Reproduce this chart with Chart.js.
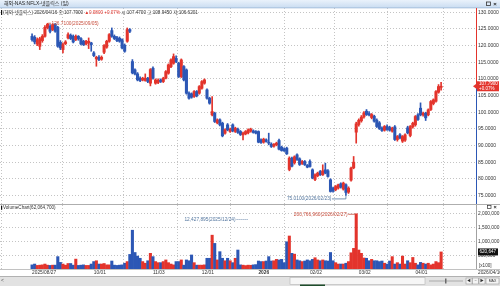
<!DOCTYPE html>
<html>
<head>
<meta charset="utf-8">
<script src="https://cdn.jsdelivr.net/npm/chart.js@4.4.1/dist/chart.umd.min.js"></script>
<style>
  body { margin: 0; width: 500px; height: 286px; overflow: hidden; background: #fff; position: relative; }
  canvas { position: absolute; left: 0; }
  #pc { top: 0; }
  #vc { top: 204px; }
</style>
</head>
<body>
<canvas id="pc" width="500" height="204"></canvas>
<canvas id="vc" width="500" height="82"></canvas>
<script>
// 일봉 날짜 (2025/08/27 ~ 2026/04/16)
const dates = [
  '2025/08/27','2025/08/28','2025/08/29',
  '2025/09/02','2025/09/03','2025/09/04','2025/09/05','2025/09/08','2025/09/09','2025/09/10','2025/09/11','2025/09/12',
  '2025/09/15','2025/09/16','2025/09/17','2025/09/18','2025/09/19','2025/09/22','2025/09/23','2025/09/24','2025/09/25',
  '2025/09/26','2025/09/29','2025/09/30',
  '2025/10/01','2025/10/02','2025/10/03','2025/10/06','2025/10/07','2025/10/08','2025/10/09','2025/10/10','2025/10/13',
  '2025/10/14','2025/10/15','2025/10/16','2025/10/17','2025/10/20','2025/10/21','2025/10/22','2025/10/23','2025/10/24',
  '2025/10/27','2025/10/28','2025/10/29','2025/10/30','2025/10/31',
  '2025/11/03','2025/11/04','2025/11/05','2025/11/06','2025/11/07','2025/11/10','2025/11/11','2025/11/12','2025/11/13',
  '2025/11/14','2025/11/17','2025/11/18','2025/11/19','2025/11/20','2025/11/21','2025/11/24','2025/11/25','2025/11/26',
  '2025/11/28',
  '2025/12/01','2025/12/02','2025/12/03','2025/12/04','2025/12/05','2025/12/08','2025/12/09','2025/12/10','2025/12/11',
  '2025/12/12','2025/12/15','2025/12/16','2025/12/17','2025/12/18','2025/12/19','2025/12/22','2025/12/23','2025/12/24',
  '2025/12/26','2025/12/29','2025/12/30','2025/12/31',
  '2026/01/02','2026/01/05','2026/01/06','2026/01/07','2026/01/08','2026/01/09','2026/01/12','2026/01/13','2026/01/14',
  '2026/01/15','2026/01/16','2026/01/20','2026/01/21','2026/01/22','2026/01/23','2026/01/26','2026/01/27','2026/01/28',
  '2026/01/29','2026/01/30',
  '2026/02/02','2026/02/03','2026/02/04','2026/02/05','2026/02/06','2026/02/09','2026/02/10','2026/02/11','2026/02/12',
  '2026/02/13','2026/02/17','2026/02/18','2026/02/19','2026/02/20','2026/02/23','2026/02/24','2026/02/25','2026/02/26',
  '2026/02/27',
  '2026/03/02','2026/03/03','2026/03/04','2026/03/05','2026/03/06','2026/03/09','2026/03/10','2026/03/11','2026/03/12',
  '2026/03/13','2026/03/16','2026/03/17','2026/03/18','2026/03/19','2026/03/20','2026/03/23','2026/03/24','2026/03/25',
  '2026/03/26','2026/03/27','2026/03/30','2026/03/31',
  '2026/04/01','2026/04/02','2026/04/06','2026/04/07','2026/04/08','2026/04/09','2026/04/10','2026/04/13','2026/04/14',
  '2026/04/15','2026/04/16'
];

const open = [
  122.8,122.5,120.5,119.8,121.5,122.8,125.4,125.8,124.8,126.5,
  125.5,121.0,118.8,120.6,122.3,123.1,122.8,121.8,122.8,122.1,
  121.3,120.5,120.8,120.8,117.8,116.0,116.5,115.9,118.0,119.5,
  121.3,124.5,122.8,122.4,122.2,121.8,120.1,121.3,124.8,115.2,
  112.7,111.5,110.2,109.7,109.5,110.2,108.7,113.2,108.7,108.9,
  109.7,109.2,110.2,111.7,113.7,114.7,116.2,114.7,110.7,113.7,
  112.7,105.7,105.5,104.7,106.2,105.7,107.2,108.7,106.7,104.2,
  99.2,99.7,96.8,97.7,96.7,93.7,96.2,94.2,96.2,94.2,
  94.9,94.2,93.2,93.5,93.8,94.3,94.4,94.2,94.2,91.7,
  91.0,91.7,91.0,90.4,89.8,90.2,91.5,89.5,89.0,89.2,
  82.8,86.2,84.8,87.2,86.0,84.6,85.2,84.0,85.2,82.7,
  79.8,80.9,82.2,81.2,82.7,82.4,79.7,77.2,76.7,77.2,
  78.5,76.9,78.2,76.0,79.6,83.3,94.0,96.3,97.4,98.6,
  100.3,99.6,98.4,98.8,97.6,96.8,95.2,94.6,95.7,95.4,
  94.3,95.6,91.8,93.2,91.3,91.6,95.3,93.0,95.6,96.2,
  99.2,101.2,99.2,99.7,99.2,100.8,102.6,103.3,106.0,107.47
];
const high = [
  123.5,123.0,122.3,122.5,123.3,126.0,126.71,126.3,126.6,126.6,
  125.8,121.5,120.8,121.5,123.8,123.5,123.2,123.2,123.0,122.4,
  121.6,121.6,122.3,121.0,118.2,116.8,117.0,116.9,120.3,121.6,
  123.6,125.3,123.2,122.8,122.6,122.0,120.5,125.3,125.1,115.8,
  113.0,111.9,110.6,110.5,111.5,110.5,113.1,113.6,110.0,110.0,
  110.0,110.5,112.5,114.5,116.0,117.5,116.9,115.0,116.0,114.0,
  113.0,106.1,105.8,106.5,106.5,108.0,109.5,110.0,107.0,104.5,
  104.7,100.0,98.0,98.0,97.0,95.0,96.6,95.2,96.5,95.5,
  95.2,94.5,94.0,94.5,95.0,95.2,94.7,94.5,94.4,92.0,
  92.2,92.0,93.7,90.8,90.6,91.0,91.9,89.8,89.3,89.5,
  86.6,86.5,86.9,87.5,86.3,85.5,85.5,84.3,85.7,83.0,
  81.5,82.0,82.5,84.2,84.7,82.8,80.0,77.5,78.0,78.4,
  78.8,79.0,78.5,77.6,83.5,86.7,97.0,98.0,99.0,100.2,
  100.8,100.2,99.6,99.1,98.0,97.2,95.6,96.0,96.2,95.8,
  95.5,96.0,93.0,93.6,93.0,93.5,95.8,96.0,97.0,99.0,
  99.6,102.8,100.0,100.0,101.0,103.5,104.0,106.5,108.3,108.945
];
const low = [
  121.3,120.5,120.0,118.8,121.0,122.5,125.0,123.8,124.5,124.0,
  119.5,118.8,117.8,120.3,122.0,121.8,120.8,121.5,121.6,120.2,
  120.0,120.2,119.1,118.3,116.7,113.8,115.5,115.6,117.6,119.2,
  121.0,122.5,121.8,121.2,121.0,119.0,118.0,121.0,123.9,111.5,
  111.2,109.4,109.2,109.4,109.3,108.9,107.9,109.9,108.4,108.6,
  108.9,108.9,110.0,111.4,113.4,114.4,114.9,110.4,110.4,109.4,
  105.4,103.9,104.2,104.4,104.6,105.4,106.9,108.4,103.9,102.4,
  98.9,96.9,96.5,95.9,92.6,93.4,94.4,93.9,94.1,93.9,
  93.6,93.0,91.7,93.2,93.5,94.0,93.7,93.5,90.8,90.6,
  90.7,91.0,90.2,89.4,89.5,89.9,88.7,88.3,88.2,87.3,
  82.4,83.6,84.4,85.5,84.0,84.3,84.0,83.3,83.5,80.0,
  79.4,80.6,81.0,81.0,81.5,80.5,76.0,76.0,76.4,76.9,
  77.2,76.6,75.01,75.6,79.3,83.0,90.7,95.8,97.0,98.2,
  99.0,98.9,98.0,97.0,95.4,94.8,94.2,94.3,94.5,94.3,
  94.0,91.5,91.3,92.0,90.9,91.2,93.5,92.6,95.2,95.8,
  97.5,98.9,98.8,97.5,98.9,100.5,102.2,103.0,105.7,106.6201
];
const close = [
  121.8,121.1,121.8,122.1,122.8,125.5,126.4,124.3,126.3,124.3,
  119.8,119.3,120.3,121.1,123.3,122.1,121.1,122.8,122.1,120.5,
  120.3,121.3,121.3,120.3,117.0,116.5,115.8,116.5,120.0,121.3,
  123.3,122.8,122.1,121.5,121.3,119.3,118.3,124.8,124.3,111.8,
  111.5,109.7,109.5,110.2,110.2,109.2,112.8,110.2,109.7,109.6,
  109.2,110.2,112.2,114.2,115.7,116.7,115.2,110.7,115.7,109.7,
  105.7,104.2,104.5,106.2,104.9,107.7,109.2,109.7,104.2,102.7,
  100.2,97.2,97.7,96.2,92.9,94.7,94.7,94.9,94.4,95.2,
  93.9,93.3,93.7,94.2,94.7,94.9,93.9,93.7,91.0,90.9,
  91.9,91.2,90.7,89.7,90.4,90.7,88.9,88.5,88.4,87.5,
  86.2,83.8,86.6,85.8,84.3,85.2,84.2,83.5,83.7,80.2,
  81.2,81.7,81.2,82.4,81.7,80.7,76.2,76.3,77.7,78.2,
  77.5,78.7,75.9,77.2,83.2,85.0,96.5,97.6,98.5,99.8,
  99.3,99.2,99.3,97.3,95.7,95.1,94.5,95.7,94.8,94.6,
  95.2,91.8,92.7,92.3,92.7,93.2,93.8,95.7,96.7,98.7,
  97.8,99.2,99.7,98.3,100.7,103.2,103.7,106.2,107.71,107.79
];
// 거래량 (백만 주)
const volume = [
  15,18,13,14,15,18,14,13,14,14,
  45,24,18,14,20,20,14,36,13,14,
  15,13,13,18,27,30,18,18,20,15,
  15,29,14,13,14,15,21,27,53,141,
  60,47,39,27,21,30,57,45,27,23,
  23,27,33,23,18,15,27,27,33,14,
  33,30,51,23,14,14,14,15,39,39,
  123,93,33,63,39,30,39,30,23,39,
  69,15,14,12.427895,14,13.5,15,16,29,27,
  27,29,45,29,30,35,33,35,23,99,
  120,57,54,33,30,27,29,33,30,35,
  41,33,30,33,30,29,60,30,23,18,
  18,18,21,27,59,75,200.76696,69,57,40,
  39,30,35,30,30,27,29,21,18,29,
  45,18,23,18,47,18,30,23,42,21,
  15,24,21,18,21,15,18,27,23,62.0647
];

const tickIdx = [0, 24, 47, 66, 88, 108, 127, 149];
const tickText = ['2025/08/27', '10/01', '11/03', '12/01', '2026', '02/02', '03/02', '04/01'];
const priceTicks = [75, 80, 85, 90, 95, 100, 105, 110, 115, 120, 125, 130];
const volTicks = [50, 100, 150, 200];

const RED = '#e3342c', BLUE = '#2c57b5', GRID = '#c4c4c4', TXT = '#333';
const FAM = '"Liberation Sans","Noto Sans CJK KR",sans-serif';
const n = close.length;
const col = close.map((c, i) => c >= open[i] ? RED : BLUE);
const fmt = v => Math.round(v).toLocaleString('en-US');

function txt(ctx, s, x, y, color, align, size, weight) {
  ctx.font = (weight || 'normal') + ' ' + (size || 5) + 'px ' + FAM;
  ctx.fillStyle = color;
  ctx.textAlign = align || 'left';
  ctx.textBaseline = 'middle';
  ctx.fillText(s, x, y);
  return ctx.measureText(s).width;
}

const xBase = {
  type: 'linear', min: -0.9, max: 161,
  afterBuildTicks: s => { s.ticks = tickIdx.map(v => ({ value: v })); },
  grid: { color: GRID, drawTicks: false },
  border: { display: false, dash: [1, 2] }
};

const pricePanel = {
  id: 'pricePanel',
  afterDraw(chart) {
    const { ctx, chartArea: a, scales: { x, y } } = chart;
    ctx.save();
    // 상단 타이틀
    const g = ctx.createLinearGradient(0, 0, 0, 8);
    g.addColorStop(0, '#eaf2fb'); g.addColorStop(1, '#c9dcf1');
    ctx.fillStyle = g; ctx.fillRect(0, 0, 500, 8);
    ctx.fillStyle = '#9cb7d6'; ctx.fillRect(0, 7.5, 500, 0.8);
    txt(ctx, '해외-NAS:NFLX-넷플릭스 (일)', 4, 4, '#222', 'left', 5);
    ctx.strokeStyle = '#333'; ctx.lineWidth = 0.8;
    ctx.strokeRect(486.5, 2, 4, 3.5);
    txt(ctx, '×', 495, 4, '#222', 'center', 6, 'bold');

    // 시세 정보줄
    ctx.fillStyle = '#111'; ctx.fillRect(1, 10, 1.2, 5);
    const last = n - 1, chg = close[last] - close[last - 1];
    const parts = [
      ['(해외-넷플릭스) ' + dates[last] + ' 종:' + close[last].toFixed(4) + ' ', TXT],
      ['▲' + chg.toFixed(4) + ' ', RED],
      ['+' + (chg / close[last - 1] * 100).toFixed(2) + '% ', RED],
      ['시:' + open[last].toFixed(4) + ' 고:' + high[last].toFixed(4) + ' 저:' + low[last].toFixed(4), TXT]
    ];
    let tx = 3;
    parts.forEach(([s, c]) => { tx += txt(ctx, s, tx, 12.6, c, 'left', 4.6); });

    // 가격축 라인 (현재가 위 빨강, 아래 파랑)
    const cy = y.getPixelForValue(close[last]);
    ctx.fillStyle = RED; ctx.fillRect(a.right, a.top, 1, cy - a.top);
    ctx.fillStyle = BLUE; ctx.fillRect(a.right, cy, 1, a.bottom - cy);

    // 현재가 박스
    ctx.fillStyle = RED;
    ctx.beginPath(); ctx.moveTo(a.right - 3, cy); ctx.lineTo(a.right + 1, cy - 3); ctx.lineTo(a.right + 1, cy + 3); ctx.fill();
    ctx.fillRect(a.right + 1, cy - 5, 22, 10);
    txt(ctx, close[last].toFixed(4), a.right + 3, cy - 2.3, '#fff', 'left', 4.5);
    txt(ctx, '+' + (chg / close[last - 1] * 100).toFixed(2) + '%', a.right + 3, cy + 2.5, '#fff', 'left', 4.5);

    // 최고/최저 표시
    const hi = high.indexOf(Math.max(...high));
    const hx = x.getPixelForValue(hi), hy = y.getPixelForValue(high[hi]);
    ctx.strokeStyle = '#c8503f'; ctx.lineWidth = 0.8;
    ctx.beginPath(); ctx.moveTo(hx + 0.5, hy); ctx.lineTo(hx + 3.5, hy); ctx.stroke();
    txt(ctx, high[hi].toFixed(4) + '(' + dates[hi] + ')', hx + 4, hy, '#c8503f', 'left', 4.8);

    const lo = low.indexOf(Math.min(...low));
    const lx = x.getPixelForValue(lo), ly = y.getPixelForValue(low[lo]);
    ctx.strokeStyle = '#55779f';
    ctx.beginPath(); ctx.moveTo(lx - 14, ly + 3.5); ctx.lineTo(lx, ly + 3.5); ctx.lineTo(lx, ly + 0.5); ctx.stroke();
    txt(ctx, low[lo].toFixed(4) + '(' + dates[lo] + ')', lx - 14.5, ly + 3.5, '#55779f', 'right', 4.8);
    ctx.restore();
  }
};

new Chart(document.getElementById('pc'), {
  type: 'bar',
  data: {
    datasets: [
      { data: dates.map((d, i) => ({ x: i, y: [low[i], high[i]] })), backgroundColor: col, barThickness: 1, grouped: false, minBarLength: 1 },
      { data: dates.map((d, i) => ({ x: i, y: [open[i], close[i]] })), backgroundColor: col, barThickness: 2.4, grouped: false, minBarLength: 1 }
    ]
  },
  options: {
    animation: false, responsive: false, events: [],
    layout: { padding: { top: 8, left: 0, right: 0, bottom: 0 } },
    plugins: { legend: { display: false }, tooltip: { enabled: false } },
    scales: {
      x: Object.assign({}, xBase, { ticks: { display: false }, afterFit: s => { s.height = 0; } }),
      y: {
        position: 'right', min: 72.43, max: 131.29,
        afterBuildTicks: s => { s.ticks = priceTicks.map(v => ({ value: v })); },
        ticks: { callback: v => v.toFixed(4), color: TXT, font: { family: FAM, size: 5 }, padding: 2, crossAlign: 'near' },
        grid: { color: GRID, drawTicks: false },
        border: { display: false, dash: [1, 2] },
        afterFit: s => { s.width = 24; s.paddingTop = 0; s.paddingBottom = 0; }
      }
    }
  },
  plugins: [pricePanel]
});

const volPanel = {
  id: 'volPanel',
  afterDraw(chart) {
    const { ctx, chartArea: a, scales: { x, y } } = chart;
    ctx.save();
    ctx.fillStyle = '#9a9a9a'; ctx.fillRect(0, 0, 500, 0.8);
    ctx.fillStyle = '#111'; ctx.fillRect(1, 1.8, 1.2, 4);
    const last = n - 1;
    txt(ctx, 'VolumeChart(' + fmt(volume[last] * 1e6) + ')', 3, 3.8, TXT, 'left', 4.6);
    ctx.strokeStyle = '#333'; ctx.lineWidth = 0.7; ctx.strokeRect(487.5, 1.5, 3.5, 3);
    txt(ctx, '×', 495, 3.2, '#222', 'center', 5.5, 'bold');

    ctx.fillStyle = '#8a8a8a'; ctx.fillRect(a.right, a.top, 0.8, a.bottom - a.top);
    ctx.fillStyle = '#9a9a9a'; ctx.fillRect(0, a.bottom, 500, 0.6);

    // 현재 거래량 박스
    const vy = y.getPixelForValue(volume[last]);
    ctx.fillStyle = '#111'; ctx.fillRect(a.right + 2, vy - 3.5, 20, 7);
    txt(ctx, fmt(volume[last] * 1e4), a.right + 3.5, vy, '#fff', 'left', 4.6);
    txt(ctx, '[x100]', a.right + 3, a.bottom - 3, TXT, 'left', 4.6);

    // 최대/최소 거래량
    const mx = volume.indexOf(Math.max(...volume));
    const mpx = x.getPixelForValue(mx), mpy = y.getPixelForValue(volume[mx]);
    ctx.strokeStyle = '#c8503f'; ctx.lineWidth = 0.8;
    ctx.beginPath(); ctx.moveTo(mpx - 8, mpy + 0.5); ctx.lineTo(mpx - 0.5, mpy + 0.5); ctx.stroke();
    txt(ctx, fmt(volume[mx] * 1e6) + '(' + dates[mx] + ')', mpx - 8.5, mpy + 0.5, '#c8503f', 'right', 4.8);

    const mn = volume.indexOf(Math.min(...volume));
    const npx = x.getPixelForValue(mn), npy = a.top + 14.5;
    ctx.strokeStyle = '#55779f'; ctx.setLineDash([1, 1]);
    ctx.beginPath(); ctx.moveTo(npx - 9, npy); ctx.lineTo(npx + 2, npy); ctx.stroke();
    ctx.setLineDash([]);
    txt(ctx, fmt(volume[mn] * 1e6) + '(' + dates[mn] + ')', npx - 10, npy, '#55779f', 'right', 4.8);

    // 마지막 날짜
    txt(ctx, dates[last], a.right + 2, a.bottom + 3.6, TXT, 'left', 4.8);

    // 하단 스크롤바
    const sy = a.bottom + 7;
    ctx.fillStyle = '#8f8f8f'; ctx.fillRect(0, sy, 500, 0.8);
    ctx.fillStyle = '#e2e2e2'; ctx.fillRect(0, sy + 0.8, 500, 9.2);
    ctx.fillStyle = '#f6f6f6'; ctx.fillRect(290, sy + 1.5, 135, 7);
    ctx.strokeStyle = '#b5b5b5'; ctx.lineWidth = 0.6; ctx.strokeRect(290, sy + 1.5, 135, 7);
    txt(ctx, '<', 2.5, sy + 5, '#555', 'center', 5);
    ctx.fillStyle = '#9d9d9d'; ctx.fillRect(429, sy + 4.6, 34, 0.8);
    ctx.fillStyle = '#6a6a6a'; ctx.fillRect(445, sy + 2.5, 1.5, 5);
    ['◀', '−', '▶'].forEach((s, i) => {
      ctx.fillStyle = '#f4f4f4'; ctx.fillRect(466 + i * 6.5, sy + 2, 6, 6);
      ctx.strokeStyle = '#999'; ctx.strokeRect(466 + i * 6.5, sy + 2, 6, 6);
      txt(ctx, s, 469 + i * 6.5, sy + 5, '#333', 'center', 3.8);
    });
    ctx.fillStyle = '#f4f4f4'; ctx.fillRect(486, sy + 2, 13, 6);
    ctx.strokeStyle = '#999'; ctx.strokeRect(486, sy + 2, 13, 6);
    txt(ctx, 'MAX', 492.5, sy + 5, '#333', 'center', 3.5);
    ctx.fillStyle = '#1e4d2b'; ctx.fillRect(300, sy + 8.5, 25, 1.5);
    ctx.restore();
  }
};

new Chart(document.getElementById('vc'), {
  type: 'bar',
  data: {
    datasets: [{ data: volume.map((v, i) => ({ x: i, y: v })), backgroundColor: col, barThickness: 2.4, minBarLength: 1 }]
  },
  options: {
    animation: false, responsive: false, events: [],
    layout: { padding: { top: 1, left: 0, right: 0, bottom: 10 } },
    plugins: { legend: { display: false }, tooltip: { enabled: false } },
    scales: {
      x: Object.assign({}, xBase, {
        ticks: {
          autoSkip: false, maxRotation: 0, align: 'start', padding: 1, color: TXT,
          font: c => ({ family: FAM, size: 4.8, weight: c.tick && c.tick.value === 88 ? 'bold' : 'normal' }),
          callback: v => { const k = tickIdx.indexOf(v); return k >= 0 ? tickText[k] : null; }
        },
        afterFit: s => { s.height = 7; }
      }),
      y: {
        position: 'right', min: 0, max: 232.7,
        afterBuildTicks: s => { s.ticks = volTicks.map(v => ({ value: v })); },
        ticks: { callback: v => fmt(v * 1e4), color: TXT, font: { family: FAM, size: 4.8 }, padding: 2, crossAlign: 'near' },
        grid: { color: GRID, drawTicks: false },
        border: { display: false, dash: [1, 2] },
        afterFit: s => { s.width = 24; s.paddingTop = 0; s.paddingBottom = 0; }
      }
    }
  },
  plugins: [volPanel]
});
</script>
</body>
</html>
